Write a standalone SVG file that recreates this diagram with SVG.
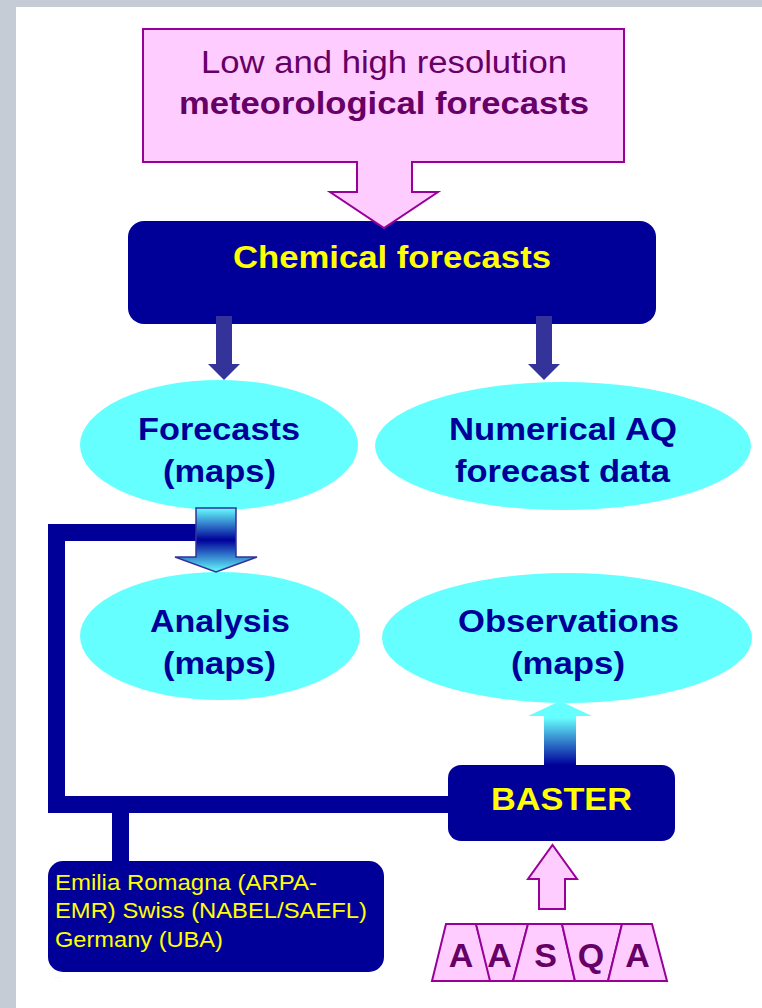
<svg xmlns="http://www.w3.org/2000/svg" width="762" height="1008" viewBox="0 0 762 1008">
<defs>
<style>
.pink{fill:#ffccff;stroke:#990099;stroke-width:2}
.navy{fill:#000099}
.ell{fill:#66ffff}
.darr{fill:#333399}
.t{font-family:"Liberation Sans",Arial,sans-serif}
.mag{fill:#660066;font-size:31px}
.yb{fill:#ffff00;font-size:31px;font-weight:bold}
.bb{fill:#000099;font-size:31px;font-weight:bold}
.ys{fill:#ffff00;font-size:22px}
.let{fill:#660066;font-size:34px;font-weight:bold}
</style>
<linearGradient id="g1" x1="0" y1="508" x2="0" y2="572" gradientUnits="userSpaceOnUse">
<stop offset="0" stop-color="#66ffff"/>
<stop offset="0.5" stop-color="#000099"/>
<stop offset="1" stop-color="#66ffff"/>
</linearGradient>
<linearGradient id="g2" x1="0" y1="765" x2="0" y2="702" gradientUnits="userSpaceOnUse">
<stop offset="0" stop-color="#000099"/>
<stop offset="0.75" stop-color="#66ffff"/>
<stop offset="1" stop-color="#66ffff"/>
</linearGradient>
</defs>
<rect x="0" y="0" width="762" height="1008" fill="#c6ccd5"/>
<rect x="16" y="7" width="746" height="1001" fill="#ffffff"/>

<g id="connectors">
<path d="M200,532.5 H56.5 V804.5 H452 M120.5,804 V864" fill="none" stroke="#000099" stroke-width="17"/>
</g>

<g id="node-chemical">
<rect x="128" y="221" width="528" height="103" rx="16" class="navy"/>
<text x="392" y="268" text-anchor="middle" class="t yb" textLength="318" lengthAdjust="spacingAndGlyphs">Chemical forecasts</text>
</g>

<g id="node-meteo">
<path d="M143,29 H624 V162 H412 V192 H438 L384,228 L330,192 H357 V162 H143 Z" class="pink"/>
<text x="384" y="73" text-anchor="middle" class="t mag" textLength="366" lengthAdjust="spacingAndGlyphs">Low and high resolution</text>
<text x="384" y="114" text-anchor="middle" class="t mag" font-weight="bold" textLength="410" lengthAdjust="spacingAndGlyphs">meteorological forecasts</text>
</g>

<g id="arrows">
<path d="M216,316 H232 V364 H240 L224,380 L208,364 H216 Z" class="darr"/>
<path d="M536,316 H552 V364 H560 L544,380 L528,364 H536 Z" class="darr"/>
</g>

<g id="node-forecasts">
<ellipse cx="219" cy="445" rx="139" ry="65" class="ell"/>
<text x="219" y="440" text-anchor="middle" class="t bb" textLength="162" lengthAdjust="spacingAndGlyphs">Forecasts</text>
<text x="219.5" y="482" text-anchor="middle" class="t bb" textLength="113" lengthAdjust="spacingAndGlyphs">(maps)</text>
</g>

<g id="node-numerical">
<ellipse cx="563" cy="446" rx="188" ry="64" class="ell"/>
<text x="563" y="440" text-anchor="middle" class="t bb" textLength="228" lengthAdjust="spacingAndGlyphs">Numerical AQ</text>
<text x="562.5" y="482" text-anchor="middle" class="t bb" textLength="215" lengthAdjust="spacingAndGlyphs">forecast data</text>
</g>

<g id="node-analysis">
<ellipse cx="220" cy="636" rx="140" ry="64" class="ell"/>
<text x="220" y="632" text-anchor="middle" class="t bb" textLength="140" lengthAdjust="spacingAndGlyphs">Analysis</text>
<text x="219.5" y="674" text-anchor="middle" class="t bb" textLength="113" lengthAdjust="spacingAndGlyphs">(maps)</text>
</g>

<g id="node-observations">
<ellipse cx="567" cy="638" rx="185" ry="65" class="ell"/>
<text x="568.5" y="632" text-anchor="middle" class="t bb" textLength="221" lengthAdjust="spacingAndGlyphs">Observations</text>
<text x="568" y="674" text-anchor="middle" class="t bb" textLength="114" lengthAdjust="spacingAndGlyphs">(maps)</text>
</g>

<g id="arrow-grad">
<path d="M196,508 H236 V557 H257 L216,572 L175,557 H196 Z" fill="url(#g1)" stroke="#333399" stroke-width="1.5"/>
<path d="M544,765 V716 H528 L560,701 L592,716 H576 V765 Z" fill="url(#g2)"/>
</g>

<g id="node-baster">
<rect x="448" y="765" width="227" height="76" rx="13" class="navy"/>
<text x="561.5" y="810" text-anchor="middle" class="t yb" textLength="141" lengthAdjust="spacingAndGlyphs">BASTER</text>
</g>

<g id="node-sources">
<rect x="48" y="861" width="336" height="111" rx="15" class="navy"/>
<text x="55" y="890" class="t ys" textLength="262" lengthAdjust="spacingAndGlyphs">Emilia Romagna (ARPA-</text>
<text x="55" y="918" class="t ys" textLength="312" lengthAdjust="spacingAndGlyphs">EMR) Swiss (NABEL/SAEFL)</text>
<text x="55" y="947" class="t ys" textLength="168" lengthAdjust="spacingAndGlyphs">Germany (UBA)</text>
<text x="55" y="978" class="t" fill="#ffff00" font-size="7">...</text>
</g>

<g id="pink-up-arrow">
<path d="M539,909 V879 H528 L552.5,845 L577,879 H565 V909 Z" class="pink"/>
</g>

<g id="node-aasqa">
<path d="M446,924 H476 L491,981 H432 Z" class="pink"/>
<path d="M476,924 H528 L513,981 H490 Z" class="pink"/>
<path d="M528,924 H562 L575,981 H513 Z" class="pink"/>
<path d="M562,924 H622 L608,981 H575 Z" class="pink"/>
<path d="M622,924 H652 L667,981 H608 Z" class="pink"/>
<text x="461" y="967" text-anchor="middle" class="t let">A</text>
<text x="499.5" y="967" text-anchor="middle" class="t let">A</text>
<text x="545.5" y="967" text-anchor="middle" class="t let">S</text>
<text x="591" y="967" text-anchor="middle" class="t let">Q</text>
<text x="637.5" y="967" text-anchor="middle" class="t let">A</text>
</g>
</svg>
